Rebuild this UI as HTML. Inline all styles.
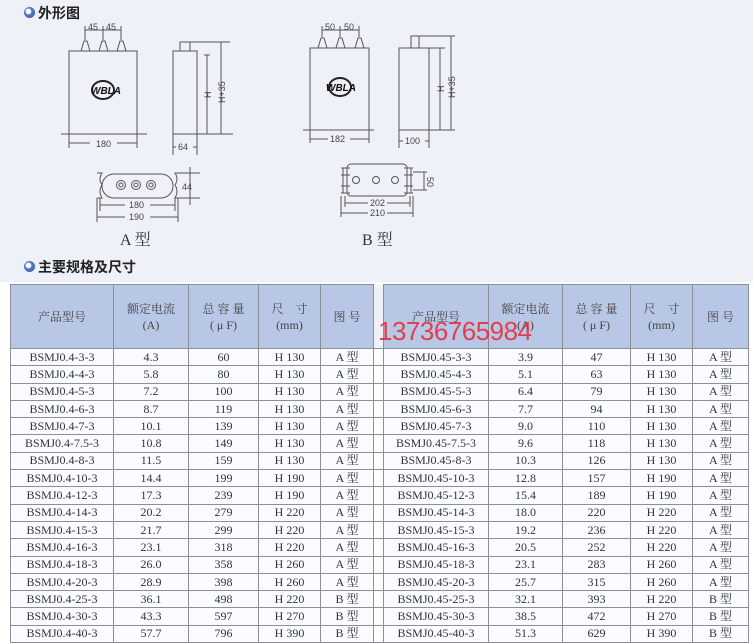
<!DOCTYPE html>
<html><head><meta charset="utf-8"><style>
*{margin:0;padding:0;box-sizing:border-box}
body{width:753px;height:639px;overflow:hidden;background:#fff;position:relative;font-family:"Liberation Serif","Noto Serif CJK SC",serif}
#top{position:absolute;left:0;top:0;width:753px;height:282px;background:#eef1f8}
.title{position:absolute;left:38px;font:bold 14px "Liberation Sans","Noto Sans CJK SC",sans-serif;color:#222}
.bul{position:absolute;width:11px;height:11px;border-radius:50%;background:radial-gradient(circle at 40% 40%,#fff 0 25%,#5b7fc8 35%,#2c4d9a 100%)}
table{position:absolute;top:284px;border-collapse:collapse;table-layout:fixed;font-size:12px;color:#333}
td{border:1px solid #8a8f9a;text-align:center;height:17.3px;line-height:15px;white-space:nowrap;background:#fbfcff}
tr.h td{background:#b8c7e6;height:64px;line-height:16px;color:#444}
td.sep{background:#fff;border-top:none}
#wm{position:absolute;left:378px;top:316px;font:26px "Liberation Sans",sans-serif;color:rgba(230,40,50,.85);letter-spacing:-0.5px}
</style></head><body>
<div id="top"></div>
<div class="bul" style="left:24px;top:7px"></div><div class="title" style="top:3px">外形图</div>
<svg style="position:absolute;left:0;top:0" width="753" height="260" fill="none" stroke="#555" stroke-width="1" font-family="Liberation Sans,sans-serif" font-size="9">
<rect x="69" y="51" width="68" height="83"/><line x1="61" y1="134" x2="147" y2="134"/>
<path d="M81 51 L84 41 L87 41 L90 51 M99 51 L102 41 L105 41 L108 51 M117 51 L120 41 L123 41 L126 51"/>
<path d="M85 26 V40 M103 26 V40 M121 26 V40 M85 30 H121"/>
<text x="88" y="30" fill="#444" stroke="none">45</text><text x="106" y="30" fill="#444" stroke="none">45</text>
<path d="M69 134 V148 M137 134 V148 M69 143 H90 M117 143 H137"/><text x="96" y="147" fill="#444" stroke="none">180</text>
<ellipse cx="103" cy="90" rx="11" ry="9" stroke="#222" stroke-width="2"/><text x="91" y="94" fill="#111" stroke="none" font-weight="bold" font-style="italic" font-size="10">WBLA</text>
<rect x="173" y="51" width="24" height="83"/><rect x="180" y="42" width="10" height="9"/>
<path d="M190 42 H230 M197 134 H233 M204 55 H210 M207 55 V134 M221 42 V134"/>
<text transform="translate(211,98) rotate(-90)" fill="#444" stroke="none">H</text>
<text transform="translate(225,103) rotate(-90)" fill="#444" stroke="none">H+35</text>
<path d="M173 134 V155 M197 134 V155 M173 147 H176 M193 147 H197"/><text x="178" y="150" fill="#444" stroke="none">64</text>
<path d="M97 173 H102 Q98 179 102 185 Q98 191 102 198 H97 M180 173 H175 Q179 179 175 185 Q179 191 175 198 H180"/>
<rect x="102" y="174" width="71" height="24" rx="12"/>
<circle cx="121" cy="185" r="4.5"/><circle cx="121" cy="185" r="2"/><circle cx="136" cy="185" r="4.5"/><circle cx="136" cy="185" r="2"/><circle cx="151" cy="185" r="4.5"/><circle cx="151" cy="185" r="2"/>
<path d="M180 173 H200 M180 198 H200 M190 167 V205"/><text x="182" y="190" fill="#444" stroke="none">44</text>
<path d="M100 198 V211 M175 198 V211 M97 198 V222 M178 198 V222 M100 205 H125 M150 205 H175 M97 217 H125 M150 217 H178"/>
<text x="129" y="208" fill="#444" stroke="none">180</text><text x="129" y="220" fill="#444" stroke="none">190</text>
<text x="120" y="245" fill="#333" stroke="none" font-family="Liberation Serif,Noto Serif CJK SC,serif" font-size="16">A 型</text>
<rect x="310" y="48" width="59" height="82"/><line x1="303" y1="130" x2="374" y2="130"/>
<path d="M318 48 L321 38 L324 38 L327 48 M336 48 L339 38 L342 38 L345 48 M355 48 L358 38 L361 38 L364 48"/>
<path d="M322 26 V37 M340 26 V37 M359 26 V37 M322 30 H359"/>
<text x="325" y="30" fill="#444" stroke="none">50</text><text x="344" y="30" fill="#444" stroke="none">50</text>
<path d="M310 130 V143 M369 130 V143 M310 139 H328 M350 139 H369"/><text x="330" y="142" fill="#444" stroke="none">182</text>
<ellipse cx="340" cy="87" rx="11" ry="9" stroke="#222" stroke-width="2"/><text x="326" y="91" fill="#111" stroke="none" font-weight="bold" font-style="italic" font-size="10">WBLA</text>
<rect x="399" y="48" width="30" height="82"/><rect x="411" y="36" width="8" height="12"/>
<path d="M419 36 H455 M429 130 H455 M429 48 H445 M440 48 V130 M451 36 V130"/>
<text transform="translate(444,92) rotate(-90)" fill="#444" stroke="none">H</text>
<text transform="translate(455,98) rotate(-90)" fill="#444" stroke="none">H+35</text>
<path d="M399 130 V148 M429 130 V148 M399 141 H403 M425 141 H429"/><text x="405" y="144" fill="#444" stroke="none">100</text>
<rect x="347" y="164" width="60" height="32" rx="4"/>
<path d="M341 168 H350 M341 175 H350 M341 186 H350 M341 193 H350 M343 168 V193 M404 168 H413 M404 175 H413 M404 186 H413 M404 193 H413 M411 168 V193"/>
<circle cx="356" cy="180" r="3.5"/><circle cx="376" cy="180" r="3.5"/><circle cx="395" cy="180" r="3.5"/>
<path d="M413 172 H427 M413 190 H427 M424 172 V190"/><text transform="translate(427,177) rotate(90)" fill="#444" stroke="none">50</text>
<path d="M345 196 V207 M410 196 V207 M341 196 V217 M413 196 V217 M345 203 H368 M387 203 H410 M341 213 H368 M387 213 H413"/>
<text x="370" y="206" fill="#444" stroke="none">202</text><text x="370" y="216" fill="#444" stroke="none">210</text>
<text x="362" y="245" fill="#333" stroke="none" font-family="Liberation Serif,Noto Serif CJK SC,serif" font-size="16">B 型</text>
</svg>
<div class="bul" style="left:24px;top:261px"></div><div class="title" style="top:257px">主要规格及尺寸</div>
<table style="left:10px">
<colgroup><col style="width:103px"><col style="width:75px"><col style="width:70px"><col style="width:62px"><col style="width:53px"><col style="width:10px"><col style="width:105px"><col style="width:74px"><col style="width:68px"><col style="width:62px"><col style="width:56px"></colgroup>
<tr class="h"><td>产品型号</td><td>额定电流<br>(A)</td><td>总 容 量<br>( μ F)</td><td>尺　寸<br>(mm)</td><td>图 号</td><td class="sep" style="background:#eef1f8"></td><td>产品型号</td><td>额定电流<br>(A)</td><td>总 容 量<br>( μ F)</td><td>尺　寸<br>(mm)</td><td>图 号</td></tr>
<tr><td>BSMJ0.4-3-3</td><td>4.3</td><td>60</td><td>H 130</td><td>A 型</td><td class="sep"></td><td>BSMJ0.45-3-3</td><td>3.9</td><td>47</td><td>H 130</td><td>A 型</td></tr>
<tr><td>BSMJ0.4-4-3</td><td>5.8</td><td>80</td><td>H 130</td><td>A 型</td><td class="sep"></td><td>BSMJ0.45-4-3</td><td>5.1</td><td>63</td><td>H 130</td><td>A 型</td></tr>
<tr><td>BSMJ0.4-5-3</td><td>7.2</td><td>100</td><td>H 130</td><td>A 型</td><td class="sep"></td><td>BSMJ0.45-5-3</td><td>6.4</td><td>79</td><td>H 130</td><td>A 型</td></tr>
<tr><td>BSMJ0.4-6-3</td><td>8.7</td><td>119</td><td>H 130</td><td>A 型</td><td class="sep"></td><td>BSMJ0.45-6-3</td><td>7.7</td><td>94</td><td>H 130</td><td>A 型</td></tr>
<tr><td>BSMJ0.4-7-3</td><td>10.1</td><td>139</td><td>H 130</td><td>A 型</td><td class="sep"></td><td>BSMJ0.45-7-3</td><td>9.0</td><td>110</td><td>H 130</td><td>A 型</td></tr>
<tr><td>BSMJ0.4-7.5-3</td><td>10.8</td><td>149</td><td>H 130</td><td>A 型</td><td class="sep"></td><td>BSMJ0.45-7.5-3</td><td>9.6</td><td>118</td><td>H 130</td><td>A 型</td></tr>
<tr><td>BSMJ0.4-8-3</td><td>11.5</td><td>159</td><td>H 130</td><td>A 型</td><td class="sep"></td><td>BSMJ0.45-8-3</td><td>10.3</td><td>126</td><td>H 130</td><td>A 型</td></tr>
<tr><td>BSMJ0.4-10-3</td><td>14.4</td><td>199</td><td>H 190</td><td>A 型</td><td class="sep"></td><td>BSMJ0.45-10-3</td><td>12.8</td><td>157</td><td>H 190</td><td>A 型</td></tr>
<tr><td>BSMJ0.4-12-3</td><td>17.3</td><td>239</td><td>H 190</td><td>A 型</td><td class="sep"></td><td>BSMJ0.45-12-3</td><td>15.4</td><td>189</td><td>H 190</td><td>A 型</td></tr>
<tr><td>BSMJ0.4-14-3</td><td>20.2</td><td>279</td><td>H 220</td><td>A 型</td><td class="sep"></td><td>BSMJ0.45-14-3</td><td>18.0</td><td>220</td><td>H 220</td><td>A 型</td></tr>
<tr><td>BSMJ0.4-15-3</td><td>21.7</td><td>299</td><td>H 220</td><td>A 型</td><td class="sep"></td><td>BSMJ0.45-15-3</td><td>19.2</td><td>236</td><td>H 220</td><td>A 型</td></tr>
<tr><td>BSMJ0.4-16-3</td><td>23.1</td><td>318</td><td>H 220</td><td>A 型</td><td class="sep"></td><td>BSMJ0.45-16-3</td><td>20.5</td><td>252</td><td>H 220</td><td>A 型</td></tr>
<tr><td>BSMJ0.4-18-3</td><td>26.0</td><td>358</td><td>H 260</td><td>A 型</td><td class="sep"></td><td>BSMJ0.45-18-3</td><td>23.1</td><td>283</td><td>H 260</td><td>A 型</td></tr>
<tr><td>BSMJ0.4-20-3</td><td>28.9</td><td>398</td><td>H 260</td><td>A 型</td><td class="sep"></td><td>BSMJ0.45-20-3</td><td>25.7</td><td>315</td><td>H 260</td><td>A 型</td></tr>
<tr><td>BSMJ0.4-25-3</td><td>36.1</td><td>498</td><td>H 220</td><td>B 型</td><td class="sep"></td><td>BSMJ0.45-25-3</td><td>32.1</td><td>393</td><td>H 220</td><td>B 型</td></tr>
<tr><td>BSMJ0.4-30-3</td><td>43.3</td><td>597</td><td>H 270</td><td>B 型</td><td class="sep"></td><td>BSMJ0.45-30-3</td><td>38.5</td><td>472</td><td>H 270</td><td>B 型</td></tr>
<tr><td>BSMJ0.4-40-3</td><td>57.7</td><td>796</td><td>H 390</td><td>B 型</td><td class="sep"></td><td>BSMJ0.45-40-3</td><td>51.3</td><td>629</td><td>H 390</td><td>B 型</td></tr>
</table>
<div id="wm">13736765984</div>
</body></html>
